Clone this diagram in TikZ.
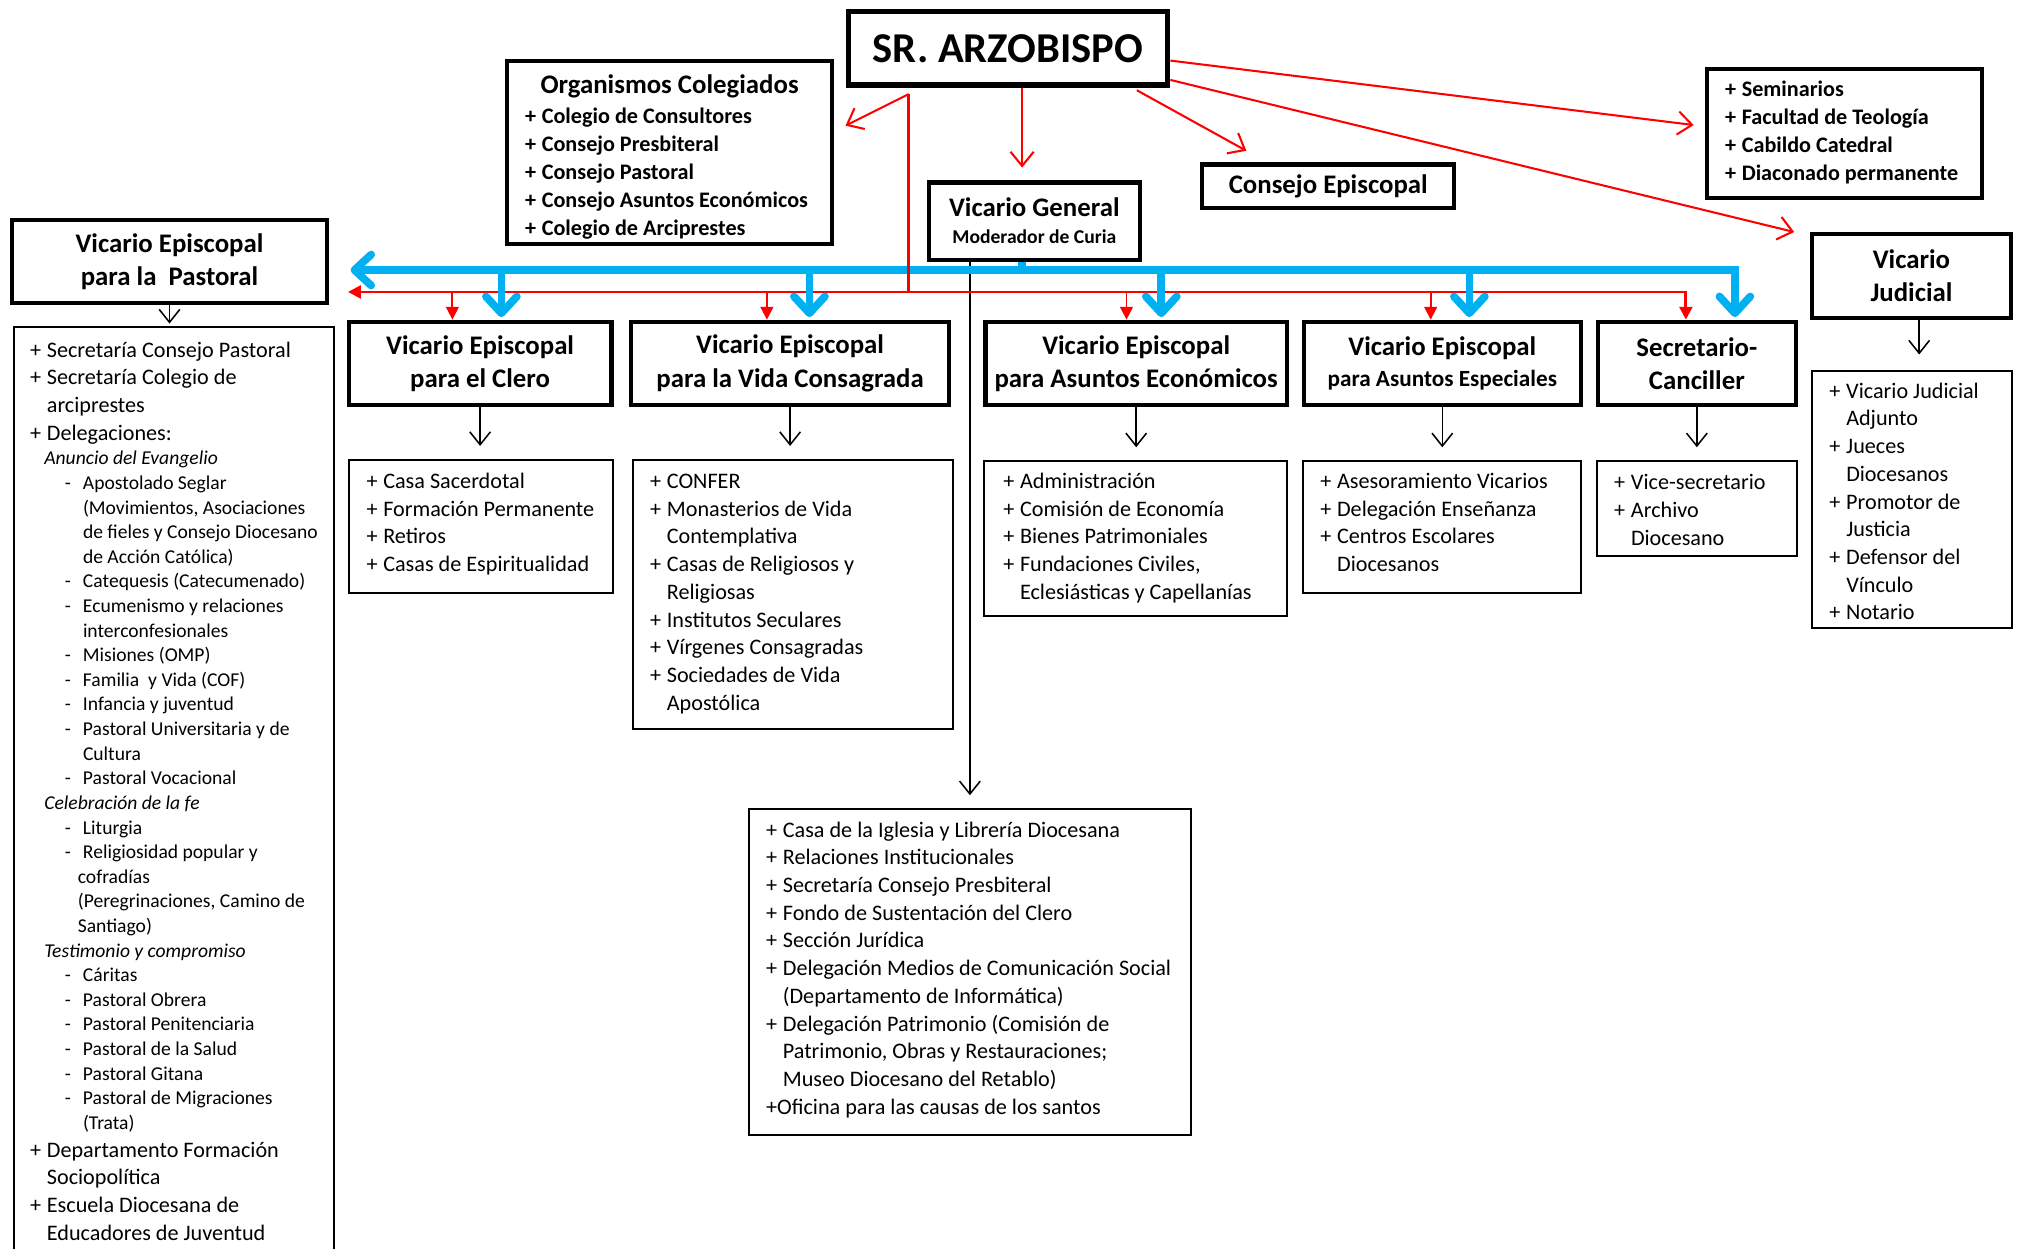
\documentclass[tikz,border=0pt]{standalone}
\usepackage{fontspec}
\setmainfont{Carlito}
\usetikzlibrary{arrows.meta,positioning}
\definecolor{busblue}{HTML}{00B0F0}
\definecolor{busred}{HTML}{FF0000}

\newcommand{\headfont}{\fontsize{10.4}{13}\selectfont\bfseries}
\newcommand{\listfont}{\fontsize{8.6}{10.75}\selectfont}
\newcommand{\boldlist}{\fontsize{8.6}{10.875}\selectfont\bfseries}
\newcommand{\smalllist}{\fontsize{7.6}{9.55}\selectfont}
\newcommand{\mkplus}{\makebox[6.5pt][l]{+}}
\newcommand{\mkind}{\hspace*{6.5pt}}
\newcommand{\mkdash}{\hspace*{13.5pt}\makebox[7pt][l]{-}}
\newcommand{\mksub}{\hspace*{20.5pt}}
\newcommand{\mksubb}{\hspace*{18.5pt}}
\newcommand{\mkhead}[1]{\hspace*{5.5pt}\textit{#1}}
\newcommand{\mklist}[1]{\parbox[t]{240pt}{\raggedright #1}}

\begin{document}
\begin{tikzpicture}[x=0.5pt, y=-0.5pt,
  head/.style={draw, line width=1.6pt, inner sep=0pt, align=center, font=\headfont},
  listbox/.style={draw, line width=0.75pt, inner sep=0pt, anchor=north west},
  listtext/.style={anchor=base west, inner sep=0pt, font=\listfont},
  link/.style={line width=0.6pt, -{Straight Barb[length=5pt,width=8pt]}},
  ray/.style={busred, line width=0.8pt, -{Straight Barb[length=5.5pt,width=9pt]}},
  redbus/.style={busred, line width=1.1pt},
  redtip/.style={-{Triangle[length=5pt,width=5pt]}},
  reddrop/.style={busred, line width=0.75pt, redtip},
  bluebus/.style={busblue, line width=3pt},
  bluetip/.style={-{Straight Barb[length=6.5pt,width=12pt,round]}},
]
\useasboundingbox (0,0) rectangle (1568,969);

% --- top level ---
\node[head, line width=2pt, minimum width=124pt, minimum height=28.5pt,
  font=\fontsize{16.5}{20}\selectfont\bfseries] (arzob) at (782,37.5) {SR. ARZOBISPO};

\node[head, minimum width=125.9pt, minimum height=70.9pt] (organ) at (519.5,118.5) {};
\node[anchor=base, inner sep=0pt, font=\headfont] (organ-title) at (519.5,72.5) {Organismos Colegiados};
\node[listtext, font=\boldlist] (organ-text) at (407,95.5) {\mklist{%
  \mkplus Colegio de Consultores\\
  \mkplus Consejo Presbiteral\\
  \mkplus Consejo Pastoral\\
  \mkplus Consejo Asuntos Económicos\\
  \mkplus Colegio de Arciprestes}};

\node[head, minimum width=81.9pt, minimum height=29.9pt] (vgeneral) at (802.5,171.5)
  {Vicario General\\[-2.5pt]{\fontsize{7.6}{9}\selectfont Moderador de Curia}};
\node[head, minimum width=97.9pt, minimum height=16.9pt] (cepis) at (1030.5,144.5) {Consejo Episcopal};

\node[head, minimum width=106.4pt, minimum height=49.9pt] (semin) at (1431,103.5) {};
\node[listtext, font=\boldlist] (semin-text) at (1338,75) {\mklist{%
  \mkplus Seminarios\\
  \mkplus Facultad de Teología\\
  \mkplus Cabildo Catedral\\
  \mkplus Diaconado permanente}};

\node[head, minimum width=77.4pt, minimum height=32.4pt] (judicial) at (1483,214) {Vicario\\Judicial};

% --- vicarios ---
\node[head, minimum width=121.9pt, minimum height=32.4pt] (pastoral) at (131.5,203) {Vicario Episcopal\\para la~ Pastoral};
\node[head, minimum width=101.9pt, minimum height=32.4pt] (clero) at (372.5,282) {Vicario Episcopal\\para el Clero};
\node[head, minimum width=123.4pt, minimum height=32.4pt] (vida) at (613,282) {Vicario Episcopal\\para la Vida Consagrada};
\node[head, minimum width=116.9pt, minimum height=32.4pt] (econ) at (881.5,282) {Vicario Episcopal\\para Asuntos Económicos};
\node[head, minimum width=107.4pt, minimum height=32.4pt] (esp) at (1119,282)
  {Vicario Episcopal\\[-1pt]{\fontsize{9}{11}\selectfont para Asuntos Especiales}};
\node[head, minimum width=76.9pt, minimum height=32.4pt] (canc) at (1316.5,282) {Secretario-\\Canciller};

% --- lists ---
\node[listbox, minimum width=124.25pt, minimum height=372pt] (past-list) at (10,253) {};
\node[listtext] (past-text) at (23,277) {\mklist{%
  \mkplus Secretaría Consejo Pastoral\\
  \mkplus Secretaría Colegio de\\
  \mkind arciprestes\\
  \mkplus Delegaciones:\endgraf
  \smalllist
  \mkhead{Anuncio del Evangelio}\\
  \mkdash Apostolado Seglar\\
  \mksub (Movimientos, Asociaciones\\
  \mksub de fieles y Consejo Diocesano\\
  \mksub de Acción Católica)\\
  \mkdash Catequesis (Catecumenado)\\
  \mkdash Ecumenismo y relaciones\\
  \mksub interconfesionales\\
  \mkdash Misiones (OMP)\\
  \mkdash Familia\ \ y Vida (COF)\\
  \mkdash Infancia y juventud\\
  \mkdash Pastoral Universitaria y de\\
  \mksub Cultura\\
  \mkdash Pastoral Vocacional\\
  \mkhead{Celebración de la fe}\\
  \mkdash Liturgia\\
  \mkdash Religiosidad popular y\\
  \mksubb cofradías\\
  \mksubb (Peregrinaciones, Camino de\\
  \mksubb Santiago)\\
  \mkhead{Testimonio y compromiso}\\
  \mkdash Cáritas\\
  \mkdash Pastoral Obrera\\
  \mkdash Pastoral Penitenciaria\\
  \mkdash Pastoral de la Salud\\
  \mkdash Pastoral Gitana\\
  \mkdash Pastoral de Migraciones\\
  \mksub (Trata)\endgraf
  \listfont
  \mkplus Departamento Formación\\
  \mkind Sociopolítica\\
  \mkplus Escuela Diocesana de\\
  \mkind Educadores de Juventud}};

\node[listbox, minimum width=102.25pt, minimum height=51.75pt] (clero-list) at (270,356) {};
\node[listtext] (clero-text) at (284,379) {\mklist{%
  \mkplus Casa Sacerdotal\\
  \mkplus Formación Permanente\\
  \mkplus Retiros\\
  \mkplus Casas de Espiritualidad}};

\node[listbox, minimum width=124.25pt, minimum height=104.25pt] (vida-list) at (490,356) {};
\node[listtext] (vida-text) at (504,379) {\mklist{%
  \mkplus CONFER\\
  \mkplus Monasterios de Vida\\
  \mkind Contemplativa\\
  \mkplus Casas de Religiosos y\\
  \mkind Religiosas\\
  \mkplus Institutos Seculares\\
  \mkplus Vírgenes Consagradas\\
  \mkplus Sociedades de Vida\\
  \mkind Apostólica}};

\node[listbox, minimum width=117.25pt, minimum height=60.25pt] (econ-list) at (763,357) {};
\node[listtext] (econ-text) at (778,379) {\mklist{%
  \mkplus Administración\\
  \mkplus Comisión de Economía\\
  \mkplus Bienes Patrimoniales\\
  \mkplus Fundaciones Civiles,\\
  \mkind Eclesiásticas y Capellanías}};

\node[listbox, minimum width=107.75pt, minimum height=51.25pt] (esp-list) at (1010,357) {};
\node[listtext] (esp-text) at (1024,379) {\mklist{%
  \mkplus Asesoramiento Vicarios\\
  \mkplus Delegación Enseñanza\\
  \mkplus Centros Escolares\\
  \mkind Diocesanos}};

\node[listbox, minimum width=77.75pt, minimum height=36.75pt] (canc-list) at (1238,357) {};
\node[listtext] (canc-text) at (1252,380) {\mklist{%
  \mkplus Vice-secretario\\
  \mkplus Archivo\\
  \mkind Diocesano}};

\node[listbox, minimum width=77.75pt, minimum height=99.75pt] (jud-list) at (1405,287) {};
\node[listtext] (jud-text) at (1419,309) {\mklist{%
  \mkplus Vicario Judicial\\
  \mkind Adjunto\\
  \mkplus Jueces\\
  \mkind Diocesanos\\
  \mkplus Promotor de\\
  \mkind Justicia\\
  \mkplus Defensor del\\
  \mkind Vínculo\\
  \mkplus Notario}};

\node[listbox, minimum width=171.75pt, minimum height=126.25pt] (curia-list) at (580,627) {};
\node[listtext] (curia-text) at (594,649.5) {\mklist{%
  \mkplus Casa de la Iglesia y Librería Diocesana\\
  \mkplus Relaciones Institucionales\\
  \mkplus Secretaría Consejo Presbiteral\\
  \mkplus Fondo de Sustentación del Clero\\
  \mkplus Sección Jurídica\\
  \mkplus Delegación Medios de Comunicación Social\\
  \mkind (Departamento de Informática)\\
  \mkplus Delegación Patrimonio (Comisión de\\
  \mkind Patrimonio, Obras y Restauraciones;\\
  \mkind Museo Diocesano del Retablo)\\
  +Oficina para las causas de los santos}};

% --- curia line ---
\draw[link, shorten >=5pt] (vgeneral.south -| curia-list.north) -- (curia-list.north);

% --- blue bus (Vicario General) ---
\coordinate (bjoin) at (793,209.5);
\coordinate (bleft) at (272,209.5);
\coordinate (bright) at (1346,209.5);
\draw[bluebus] (vgeneral.south -| bjoin) -- (bjoin);
\draw[bluebus, {Straight Barb[length=6.5pt,width=12pt,round]}-{Straight Barb[length=6.5pt,width=12pt,round]}, shorten >=1pt]
  (bleft) -| (canc.north -| bright);

% --- red bus (Arzobispo) ---
\coordinate (rtop) at ([xshift=24.5pt,yshift=-2.5pt]arzob.south west);
\coordinate (rjoin) at (rtop |- 0,226.5);
\coordinate (rleft) at (270,226.5);
\coordinate (rright) at (1308,226.5);
\draw[redbus] (rtop) -- (rjoin);
\draw[redbus, {Triangle[length=5pt,width=5pt]}-{Triangle[length=5pt,width=5pt]}]
  (rleft) -| (canc.north -| rright);

\foreach \n/\bx/\rx in {clero/389/351, vida/628/595, econ/901/874, esp/1140/1110} {
  \draw[reddrop] (\rx,226.5) -- (\n.north -| \rx,0);
  \draw[bluebus, bluetip, shorten >=1pt] (\bx,209.5) -- (\n.north -| \bx,0);
}

% --- rays from the Arzobispo ---
\draw[ray] (rtop) -- ([xshift=4.5pt,yshift=10.5pt]organ.east);
\draw[ray, shorten >=5pt] ([xshift=5.5pt]arzob.south) -- ([xshift=-4.75pt]vgeneral.north);
\draw[ray] ([xshift=-13pt,yshift=-1pt]arzob.south east) -- ([xshift=18pt,yshift=4.5pt]cepis.north west);
\draw[ray] ([yshift=-4.75pt]arzob.east) -- ([xshift=-4.5pt,yshift=3.25pt]semin.west);
\draw[ray] ([yshift=-12.25pt]arzob.east) -- ([xshift=-6pt]judicial.north west);

% --- heads to lists ---
\draw[link, shorten >=1pt] (pastoral.south) -- (pastoral.south |- past-list.north);
\foreach \n in {clero,vida,econ,esp,canc}
  \draw[link, shorten >=5pt] (\n.south) -- (\n.south |- \n-list.north);
\coordinate (jx) at ([xshift=3pt]judicial.south);
\draw[link, shorten >=6pt] (jx) -- (jx |- jud-list.north);

\end{tikzpicture}
\end{document}
